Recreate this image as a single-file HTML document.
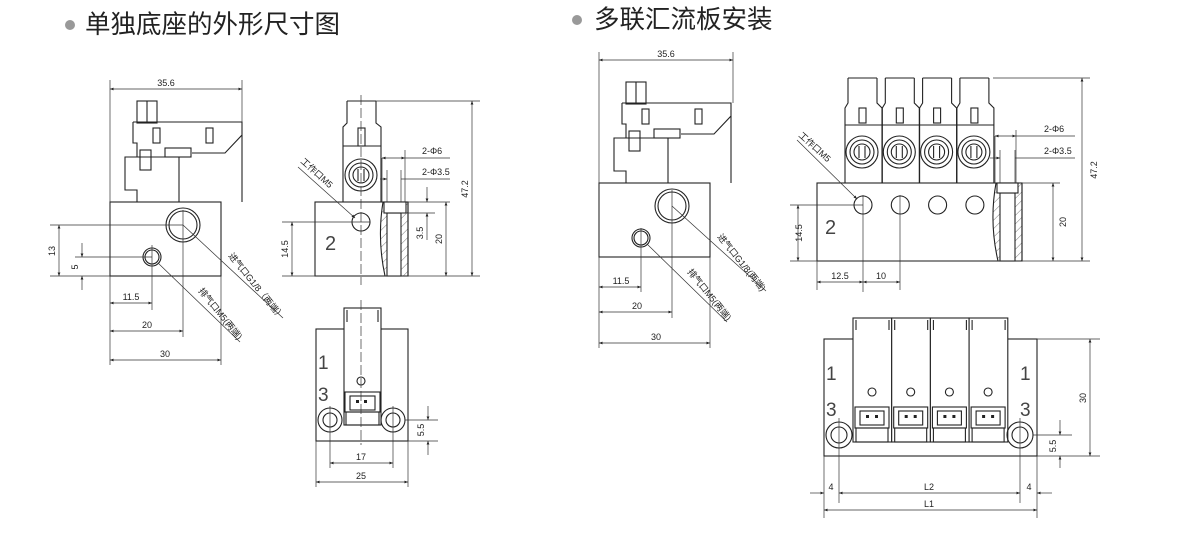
<!DOCTYPE html>
<html><head><meta charset="utf-8"><style>
html,body{margin:0;padding:0;background:#fff;}
svg{display:block;}
.t{font-family:"Liberation Sans","Noto Sans CJK SC",sans-serif;}
</style></head><body>
<svg width="1200" height="533" viewBox="0 0 1200 533" xmlns="http://www.w3.org/2000/svg">
<defs>
<marker id="a" viewBox="0 0 10 10" refX="10" refY="5" markerWidth="7" markerHeight="5" orient="auto-start-reverse"><path d="M0,1 L10,5 L0,9 z" fill="#222"/></marker>
<pattern id="h" width="6" height="6" patternUnits="userSpaceOnUse" patternTransform="rotate(45)"><line x1="0" y1="0" x2="0" y2="6" stroke="#555" stroke-width="0.8"/></pattern>
<g id="lv" fill="none" stroke="#222" stroke-width="1.1">
<rect x="110" y="202" width="111" height="74"/>
<rect x="137" y="101" width="20" height="22"/>
<line x1="147" y1="101" x2="147" y2="122"/>
<path d="M133,122 H242 V135 L225,153 H192"/>
<rect x="165" y="148" width="26" height="9"/>
<path d="M133,122 V143 H137 V157 H125 V190 H137 V202"/>
<line x1="179" y1="157" x2="179" y2="202"/>
<line x1="242" y1="135" x2="242" y2="202"/>
<line x1="137" y1="157" x2="179" y2="157"/>
<rect x="153" y="128" width="7" height="15"/>
<rect x="206" y="128" width="7" height="15"/>
<rect x="140" y="150" width="11" height="20"/>
<circle cx="183" cy="225" r="17"/><circle cx="183" cy="225" r="14"/>
<circle cx="152" cy="257" r="9"/><circle cx="152" cy="257" r="7"/>
</g>
</defs>
<g class="t">
<circle cx="70" cy="25" r="5" fill="#999"/>
<text x="85" y="33" font-size="25.5" fill="#222">单独底座的外形尺寸图</text>
<circle cx="577" cy="20" r="5" fill="#999"/>
<text x="594" y="28" font-size="25.5" fill="#222">多联汇流板安装</text>
</g>

<!-- LEFT VIEW 1 -->
<use href="#lv"/>
<g stroke="#333" stroke-width="0.7" fill="none">
<line x1="110" y1="80" x2="110" y2="365"/><line x1="242" y1="80" x2="242" y2="122"/>
<line x1="110" y1="89" x2="242" y2="89" marker-start="url(#a)" marker-end="url(#a)"/>
<line x1="50" y1="225" x2="183" y2="225"/><line x1="50" y1="276" x2="110" y2="276"/>
<line x1="59" y1="225" x2="59" y2="276" marker-start="url(#a)" marker-end="url(#a)"/>
<line x1="75" y1="257" x2="152" y2="257"/>
<line x1="82" y1="243" x2="82" y2="257" marker-end="url(#a)"/><line x1="82" y1="290" x2="82" y2="276" marker-end="url(#a)"/>
<line x1="183" y1="210" x2="183" y2="337"/><line x1="152" y1="245" x2="152" y2="310"/>
<line x1="221" y1="276" x2="221" y2="365"/>
<line x1="110" y1="303" x2="152" y2="303" marker-start="url(#a)" marker-end="url(#a)"/>
<line x1="110" y1="331" x2="183" y2="331" marker-start="url(#a)" marker-end="url(#a)"/>
<line x1="110" y1="360" x2="221" y2="360" marker-start="url(#a)" marker-end="url(#a)"/>
<line x1="183" y1="225" x2="283" y2="318"/>
<line x1="158" y1="263" x2="240" y2="342"/>
</g>
<g class="t" font-size="9" fill="#222">
<text x="166" y="86" text-anchor="middle">35.6</text>
<text x="55" y="251" transform="rotate(-90 55 251)" text-anchor="middle">13</text>
<text x="78" y="267" transform="rotate(-90 78 267)" text-anchor="middle">5</text>
<text x="131" y="300" text-anchor="middle">11.5</text>
<text x="147" y="328" text-anchor="middle">20</text>
<text x="165" y="357" text-anchor="middle">30</text>
<text x="228" y="256" transform="rotate(51 228 256)">进气口G1/8（两端）</text>
<text x="198" y="291" transform="rotate(51 198 291)">排气口M5(两端)</text>
</g>

<!-- SIDE VIEW 1 -->
<g fill="none" stroke="#222" stroke-width="1.1">
<rect x="315" y="202" width="93" height="74"/>
<path d="M347,101 V123 L343,127 V202 M376,101 V123 L381,127 V202 M347,101 H376"/>
<rect x="358" y="128" width="7" height="18"/>
<line x1="343" y1="146" x2="381" y2="146"/>
<circle cx="361" cy="175" r="16"/><circle cx="361" cy="175" r="12"/><circle cx="361" cy="175" r="8"/>
<line x1="358" y1="169" x2="358" y2="181"/><line x1="364" y1="169" x2="364" y2="181"/>
<circle cx="361" cy="222" r="9"/>
<path d="M383,202 Q377,239 385,276 H408 V202 Z" fill="url(#h)" stroke="#222"/>
<rect x="387" y="213" width="14" height="63" fill="#fff"/>
<rect x="384" y="202" width="22" height="11" fill="#fff"/>
</g>
<g stroke="#333" stroke-width="0.7" fill="none">
<line x1="361" y1="95" x2="361" y2="285" stroke-dasharray="10 3"/>
<line x1="282" y1="222" x2="370" y2="222"/><line x1="282" y1="276" x2="480" y2="276"/>
<line x1="292" y1="222" x2="292" y2="276" marker-start="url(#a)" marker-end="url(#a)"/>
<line x1="376" y1="101" x2="480" y2="101"/><line x1="408" y1="202" x2="450" y2="202"/>
<line x1="472" y1="101" x2="472" y2="276" marker-start="url(#a)" marker-end="url(#a)"/>
<line x1="446" y1="202" x2="446" y2="276" marker-start="url(#a)" marker-end="url(#a)"/>
<line x1="401" y1="213" x2="435" y2="213"/>
<line x1="427" y1="187" x2="427" y2="202" marker-end="url(#a)"/><line x1="427" y1="240" x2="427" y2="213" marker-end="url(#a)"/>
<line x1="382" y1="158" x2="382" y2="202"/><line x1="405" y1="150" x2="405" y2="202"/>
<line x1="382" y1="158" x2="405" y2="158" marker-start="url(#a)" marker-end="url(#a)"/><line x1="405" y1="158" x2="450" y2="158"/>
<line x1="387" y1="170" x2="387" y2="202"/><line x1="401" y1="170" x2="401" y2="202"/>
<line x1="380" y1="179" x2="387" y2="179" marker-end="url(#a)"/><line x1="401" y1="179" x2="450" y2="179"/>
<line x1="298" y1="167" x2="355" y2="218" marker-end="url(#a)"/>
</g>
<g class="t" font-size="9" fill="#222">
<text x="325" y="250" font-size="20" fill="#444">2</text>
<text x="288" y="249" transform="rotate(-90 288 249)" text-anchor="middle">14.5</text>
<text x="442" y="239" transform="rotate(-90 442 239)" text-anchor="middle">20</text>
<text x="468" y="189" transform="rotate(-90 468 189)" text-anchor="middle">47.2</text>
<text x="423" y="233" transform="rotate(-90 423 233)" text-anchor="middle">3.5</text>
<text x="422" y="154">2-Φ6</text>
<text x="422" y="175">2-Φ3.5</text>
<text x="300" y="162" transform="rotate(42 300 162)">工作口M5</text>
</g>

<!-- FRONT VIEW 1 -->
<g fill="none" stroke="#222" stroke-width="1.1">
<rect x="316" y="329" width="92" height="112"/>
<rect x="344" y="308" width="37" height="117" fill="#fff"/>
<line x1="347" y1="310" x2="347" y2="322"/><line x1="378" y1="310" x2="378" y2="322"/>
<circle cx="361" cy="381" r="4"/>
<rect x="345" y="392" width="35" height="20"/><rect x="350" y="396" width="25" height="14"/>
<rect x="346" y="412" width="33" height="13"/>
<circle cx="330" cy="420" r="12"/><circle cx="330" cy="420" r="7"/>
<circle cx="393" cy="420" r="12"/><circle cx="393" cy="420" r="7"/>
</g>
<rect x="356" y="400" width="3" height="3" fill="#222"/><rect x="364" y="400" width="3" height="3" fill="#222"/>
<g stroke="#333" stroke-width="0.7" fill="none">
<line x1="361" y1="300" x2="361" y2="445" stroke-dasharray="10 3"/>
<line x1="330" y1="406" x2="330" y2="468"/><line x1="393" y1="406" x2="393" y2="468"/>
<line x1="316" y1="441" x2="316" y2="487"/><line x1="408" y1="441" x2="408" y2="487"/>
<line x1="330" y1="463" x2="393" y2="463" marker-start="url(#a)" marker-end="url(#a)"/>
<line x1="316" y1="482" x2="408" y2="482" marker-start="url(#a)" marker-end="url(#a)"/>
<line x1="405" y1="420" x2="438" y2="420"/><line x1="408" y1="441" x2="438" y2="441"/>
<line x1="428" y1="406" x2="428" y2="420" marker-end="url(#a)"/><line x1="428" y1="455" x2="428" y2="441" marker-end="url(#a)"/>
</g>
<g class="t" fill="#444">
<text x="318" y="369" font-size="19">1</text>
<text x="318" y="401" font-size="19">3</text>
<text x="361" y="460" font-size="9" fill="#222" text-anchor="middle">17</text>
<text x="361" y="479" font-size="9" fill="#222" text-anchor="middle">25</text>
<text x="424" y="430" font-size="9" fill="#222" transform="rotate(-90 424 430)" text-anchor="middle">5.5</text>
</g>

<!-- LEFT VIEW 2 -->
<use href="#lv" transform="translate(489,-19)"/>
<g stroke="#333" stroke-width="0.7" fill="none">
<line x1="599" y1="52" x2="599" y2="348"/><line x1="733" y1="52" x2="733" y2="103"/>
<line x1="599" y1="60" x2="733" y2="60" marker-start="url(#a)" marker-end="url(#a)"/>
<line x1="672" y1="190" x2="672" y2="318"/><line x1="641" y1="228" x2="641" y2="292"/>
<line x1="710" y1="257" x2="710" y2="348"/>
<line x1="599" y1="287" x2="641" y2="287" marker-start="url(#a)" marker-end="url(#a)"/>
<line x1="599" y1="312" x2="672" y2="312" marker-start="url(#a)" marker-end="url(#a)"/>
<line x1="599" y1="343" x2="710" y2="343" marker-start="url(#a)" marker-end="url(#a)"/>
<line x1="672" y1="206" x2="766" y2="291"/>
<line x1="647" y1="244" x2="727" y2="322"/>
</g>
<g class="t" font-size="9" fill="#222">
<text x="666" y="57" text-anchor="middle">35.6</text>
<text x="621" y="284" text-anchor="middle">11.5</text>
<text x="637" y="309" text-anchor="middle">20</text>
<text x="656" y="340" text-anchor="middle">30</text>
<text x="717" y="237" transform="rotate(51 717 237)">进气口G1/8(两端)</text>
<text x="687" y="272" transform="rotate(51 687 272)">排气口M5(两端)</text>
</g>

<!-- MANIFOLD SIDE -->
<g fill="none" stroke="#222" stroke-width="1.1">
<rect x="817" y="183" width="205" height="78"/>
<g id="vs">
<path d="M848,78 V103 L845,108 V183 M877,78 V103 L882,108 V183 M848,78 H877"/>
<rect x="859" y="108" width="7" height="15"/>
<line x1="845" y1="125" x2="882" y2="125"/>
<circle cx="862" cy="152" r="16"/><circle cx="862" cy="152" r="12"/><circle cx="862" cy="152" r="8"/>
<line x1="859" y1="146" x2="859" y2="158"/><line x1="865" y1="146" x2="865" y2="158"/>
<circle cx="863" cy="205" r="9"/>
</g>
<use href="#vs" transform="translate(37.3,0)"/>
<use href="#vs" transform="translate(74.6,0)"/>
<use href="#vs" transform="translate(111.9,0)"/>
<path d="M996,183 Q989,222 998,261 H1022 V183 Z" fill="url(#h)"/>
<rect x="1000" y="193" width="15" height="68" fill="#fff"/>
<rect x="997" y="183" width="21" height="10" fill="#fff"/>
</g>
<g stroke="#333" stroke-width="0.7" fill="none">
<line x1="790" y1="205" x2="863" y2="205"/><line x1="790" y1="261" x2="1090" y2="261"/>
<line x1="798" y1="205" x2="798" y2="261" marker-start="url(#a)" marker-end="url(#a)"/>
<line x1="993" y1="78" x2="1090" y2="78"/><line x1="1022" y1="183" x2="1060" y2="183"/>
<line x1="1082" y1="78" x2="1082" y2="261" marker-start="url(#a)" marker-end="url(#a)"/>
<line x1="1053" y1="183" x2="1053" y2="261" marker-start="url(#a)" marker-end="url(#a)"/>
<line x1="863" y1="195" x2="863" y2="292"/><line x1="900" y1="195" x2="900" y2="290"/>
<line x1="817" y1="261" x2="817" y2="290"/>
<line x1="817" y1="282" x2="863" y2="282" marker-start="url(#a)" marker-end="url(#a)"/>
<line x1="863" y1="282" x2="900" y2="282" marker-start="url(#a)" marker-end="url(#a)"/>
<line x1="995" y1="136" x2="995" y2="183"/><line x1="1016" y1="130" x2="1016" y2="183"/>
<line x1="995" y1="136" x2="1016" y2="136" marker-start="url(#a)" marker-end="url(#a)"/><line x1="1016" y1="136" x2="1075" y2="136"/>
<line x1="1000" y1="150" x2="1000" y2="183"/><line x1="1015" y1="150" x2="1015" y2="183"/>
<line x1="990" y1="158" x2="1000" y2="158" marker-end="url(#a)"/><line x1="1015" y1="158" x2="1075" y2="158"/>
<line x1="797" y1="140" x2="857" y2="199" marker-end="url(#a)"/>
</g>
<g class="t" font-size="9" fill="#222">
<text x="825" y="234" font-size="20" fill="#444">2</text>
<text x="802" y="233" transform="rotate(-90 802 233)" text-anchor="middle">14.5</text>
<text x="1066" y="222" transform="rotate(-90 1066 222)" text-anchor="middle">20</text>
<text x="1097" y="170" transform="rotate(-90 1097 170)" text-anchor="middle">47.2</text>
<text x="840" y="279" text-anchor="middle">12.5</text>
<text x="881" y="279" text-anchor="middle">10</text>
<text x="1044" y="132">2-Φ6</text>
<text x="1044" y="154">2-Φ3.5</text>
<text x="798" y="136" transform="rotate(42 798 136)">工作口M5</text>
</g>

<!-- MANIFOLD FRONT -->
<g fill="none" stroke="#222" stroke-width="1.1">
<rect x="824" y="339" width="213" height="117"/>
<g id="vf">
<rect x="853" y="318" width="38.7" height="124" fill="#fff"/>
<line x1="856" y1="320" x2="856" y2="330"/><line x1="889" y1="320" x2="889" y2="330"/>
<circle cx="872" cy="392" r="4"/>
<rect x="855" y="407" width="34" height="21"/><rect x="860" y="411" width="24" height="14"/>
<rect x="856" y="428" width="32" height="14"/>
<rect x="866" y="415" width="3" height="3" fill="#222" stroke="none"/><rect x="875" y="415" width="3" height="3" fill="#222" stroke="none"/>
</g>
<use href="#vf" transform="translate(38.7,0)"/>
<use href="#vf" transform="translate(77.4,0)"/>
<use href="#vf" transform="translate(116.1,0)"/>
<circle cx="839" cy="435" r="13"/><circle cx="839" cy="435" r="8"/>
<circle cx="1020" cy="435" r="13"/><circle cx="1020" cy="435" r="8"/>
</g>
<g stroke="#333" stroke-width="0.7" fill="none">
<line x1="839" y1="418" x2="839" y2="503"/><line x1="1020" y1="418" x2="1020" y2="503"/>
<line x1="824" y1="456" x2="824" y2="518"/><line x1="1037" y1="456" x2="1037" y2="518"/>
<line x1="1037" y1="339" x2="1100" y2="339"/><line x1="1037" y1="456" x2="1100" y2="456"/>
<line x1="1033" y1="435" x2="1072" y2="435"/>
<line x1="1090" y1="339" x2="1090" y2="456" marker-start="url(#a)" marker-end="url(#a)"/>
<line x1="1060" y1="420" x2="1060" y2="435" marker-end="url(#a)"/><line x1="1060" y1="468" x2="1060" y2="456" marker-end="url(#a)"/>
<line x1="839" y1="493" x2="1020" y2="493" marker-start="url(#a)" marker-end="url(#a)"/>
<line x1="810" y1="493" x2="824" y2="493" marker-end="url(#a)"/><line x1="1052" y1="493" x2="1037" y2="493" marker-end="url(#a)"/>
<line x1="824" y1="510" x2="1037" y2="510" marker-start="url(#a)" marker-end="url(#a)"/>
</g>
<g class="t" fill="#444">
<text x="826" y="380" font-size="19">1</text><text x="826" y="416" font-size="19">3</text>
<text x="1020" y="380" font-size="19">1</text><text x="1020" y="416" font-size="19">3</text>
<g font-size="9" fill="#222">
<text x="831" y="490" text-anchor="middle">4</text>
<text x="929" y="490" text-anchor="middle">L2</text>
<text x="1029" y="490" text-anchor="middle">4</text>
<text x="929" y="507" text-anchor="middle">L1</text>
<text x="1086" y="398" transform="rotate(-90 1086 398)" text-anchor="middle">30</text>
<text x="1056" y="446" transform="rotate(-90 1056 446)" text-anchor="middle">5.5</text>
</g>
</g>
</svg>
</body></html>
